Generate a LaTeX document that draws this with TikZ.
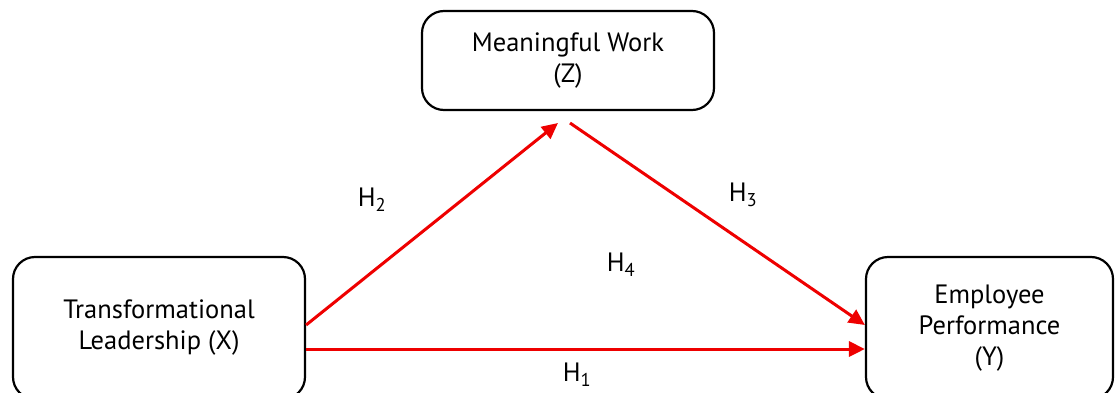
\documentclass[tikz,border=0pt]{standalone}
\usepackage{fontspec}
\setmainfont{PT Sans}
\usetikzlibrary{arrows.meta, calc}
\definecolor{pathred}{RGB}{238, 0, 0}

\begin{document}
\begin{tikzpicture}[x=1pt, y=1pt,
  varbox/.style={draw, line width=2.2pt, rounded corners=22pt, align=center,
    font=\fontsize{26.5}{31}\selectfont, inner sep=0pt},
  patharrow/.style={draw=pathred, line width=3pt, -{Triangle[length=16pt, width=15pt]}},
  hlabel/.style={font=\fontsize{26.5}{31}\selectfont}]

  \useasboundingbox (0, 0) rectangle (1115, 392);
  \clip (0, 0) rectangle (1115, 392);

  % variables
  \node[varbox, minimum width=292, minimum height=142] (tl) at (159, 64)
    {Transformational\\Leadership (X)};
  \node[varbox, minimum width=292, minimum height=99] (mw) at (568, 331.5)
    {Meaningful Work\\(Z)};
  \node[varbox, minimum width=247, minimum height=142] (ep) at (989.5, 64)
    {Employee\\Performance\\(Y)};

  \coordinate (mwin) at (558, 269);
  \coordinate (mwout) at (570, 269);

  % paths
  \draw[patharrow] ($(tl.east)+(0, -21)$) -- ($(ep.west)+(0, -21)$);
  \draw[patharrow] ($(tl.east)+(0, 3)$) -- (mwin);
  \draw[patharrow] (mwout) -- ($(ep.west)+(0, 3)$);

  \node[hlabel] (h1) at (577, 17) {H\textsubscript{1}};
  \node[hlabel] (h2) at (372, 192) {H\textsubscript{2}};
  \node[hlabel] (h3) at (743, 197) {H\textsubscript{3}};
  \node[hlabel] (h4) at (621, 127) {H\textsubscript{4}};

\end{tikzpicture}
\end{document}
